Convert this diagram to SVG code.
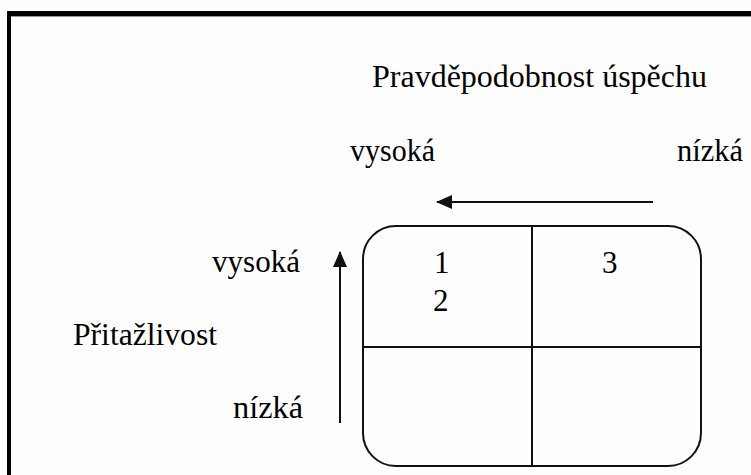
<svg xmlns="http://www.w3.org/2000/svg" width="751" height="475" viewBox="0 0 751 475">
<style>
text{font-family:"Liberation Serif","Times New Roman",serif;font-size:31px;fill:#000}
.ln{stroke:#111;stroke-width:2;fill:none}
</style>
<defs>
<marker id="ah" viewBox="0 0 16 14" refX="15" refY="7" markerWidth="16" markerHeight="14" markerUnits="userSpaceOnUse" orient="auto">
<path d="M0,0 L16,7 L0,14 Z" fill="#111"/>
</marker>
</defs>
<rect width="751" height="475" fill="#fefefe"/>
<g id="frame">
<rect x="7" y="11" width="744" height="5" fill="#000"/>
<rect x="7" y="11" width="4" height="464" fill="#000"/>
<line x1="11" y1="16.5" x2="751" y2="16.5" stroke="#999" stroke-width="1"/>
</g>
<g id="labels">
<text x="372" y="87" textLength="335" lengthAdjust="spacingAndGlyphs">Pravděpodobnost úspěchu</text>
<text x="350" y="161" textLength="85" lengthAdjust="spacingAndGlyphs">vysoká</text>
<text x="677" y="161" textLength="66" lengthAdjust="spacingAndGlyphs">nízká</text>
<text x="212" y="272" textLength="88" lengthAdjust="spacingAndGlyphs">vysoká</text>
<text x="73" y="345" textLength="144" lengthAdjust="spacingAndGlyphs">Přitažlivost</text>
<text x="233" y="418" textLength="70" lengthAdjust="spacingAndGlyphs">nízká</text>
</g>
<g id="matrix">
<rect class="ln" x="363" y="226" width="338" height="240" rx="33" ry="33"/>
<line class="ln" x1="532" y1="226" x2="532" y2="466"/>
<line class="ln" x1="363" y1="347" x2="701" y2="347"/>
<text x="434" y="273">1</text>
<text x="433" y="311">2</text>
<text x="602" y="273">3</text>
</g>
<g id="connectors">
<line class="ln" x1="653" y1="202" x2="437" y2="202" marker-end="url(#ah)"/>
<line class="ln" x1="340" y1="423" x2="340" y2="252" marker-end="url(#ah)"/>
</g>
</svg>
